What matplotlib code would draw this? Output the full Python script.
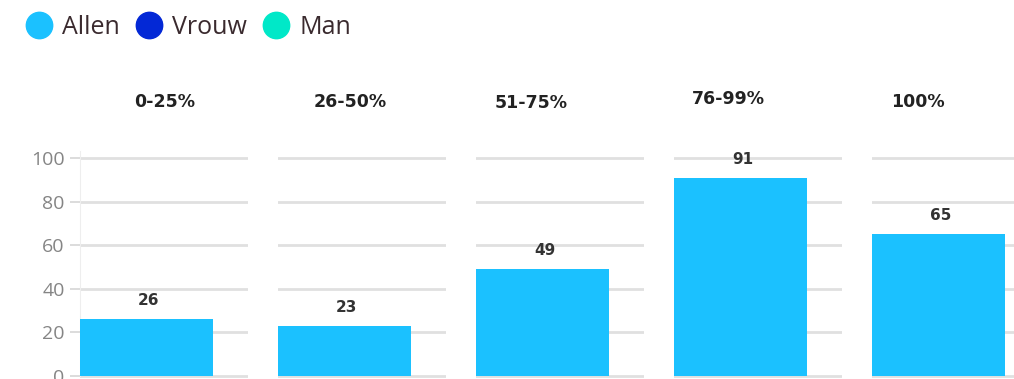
import matplotlib.pyplot as plt
from matplotlib.lines import Line2D

# data
groups = ['0-25%', '26-50%', '51-75%', '76-99%', '100%']
allen = [26, 23, 49, 91, 65]
series = ['Allen', 'Vrouw', 'Man']
colors = ['#1bc1ff', '#0328d6', '#00e8c8']
yticks = [0, 20, 40, 60, 80, 100]

plt.rcParams['font.family'] = ['Open Sans', 'DejaVu Sans']

W, H = 1014, 379
fig = plt.figure(figsize=(W / 100, H / 100), dpi=100)

# panel geometry in pixels
panel_left = [80, 278, 476, 674, 872]
panel_w = 168
y0_px, y100_px = 376, 158
unit = (y0_px - y100_px) / 100.0
bottom_px = y0_px + 1.5 * unit
top_px = y100_px - 1.5 * unit
title_cx = [165, 350, 531, 728, 918]   # pixel x centres of panel titles
title_y = [102, 102, 103, 99, 102]     # pixel y of titles

for i, (g, v) in enumerate(zip(groups, allen)):
    ax = fig.add_axes([panel_left[i] / W, (H - bottom_px) / H,
                       panel_w / W, (bottom_px - top_px) / H])
    ax.set_xlim(0, 1)
    ax.set_ylim(-1.5, 101.5)
    ax.bar(0, v, width=0.79, align='edge', color=colors[0], zorder=3)
    ax.text(0.41, v + 5, str(v), ha='center', va='bottom', family='DejaVu Sans',
            fontsize=11, fontweight='bold', color='#333333')
    for t in yticks:
        ax.axhline(t, color='#e0e0e0', lw=2.0, zorder=1)
    for s in ax.spines.values():
        s.set_visible(False)
    ax.set_xticks([])
    ax.set_yticks(yticks)
    if i == 0:
        ax.spines['left'].set_visible(True)
        ax.spines['left'].set_color('#eeeeee')
        ax.spines['left'].set_bounds(0, 103)
        ax.tick_params(axis='y', length=7, width=1.2, color='#d6d6d6',
                       labelsize=14, labelcolor='#858585', pad=4)
    else:
        ax.tick_params(axis='y', length=0, labelleft=False)
    fig.text(title_cx[i] / W, 1 - title_y[i] / H, g, family='DejaVu Sans',
             ha='center', va='center', fontsize=12.5, fontweight='bold',
             color='#222222')

handles = [Line2D([], [], marker='o', ls='', markersize=19,
                  markerfacecolor=c, markeredgecolor=c) for c in colors]
fig.legend(handles, series, loc='center left', bbox_to_anchor=(26 / W, 1 - 27 / H),
           ncol=3, frameon=False, fontsize=18, handletextpad=0.45,
           columnspacing=0.65, handlelength=1.0, labelcolor='#3a2a2e',
           borderaxespad=0, borderpad=0)

fig.savefig('out.png', dpi=100)
